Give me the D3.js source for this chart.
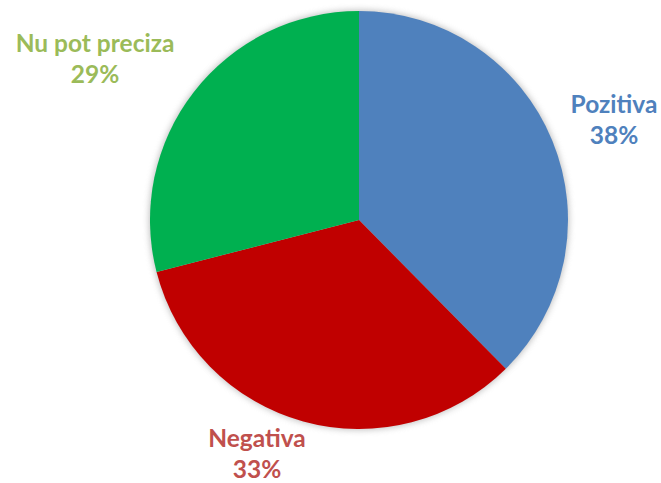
<!DOCTYPE html>
<html><head><meta charset="utf-8">
<script src="https://cdn.jsdelivr.net/npm/d3@7"></script>
<style>body{margin:0;background:#fff}svg{display:block}</style>
</head><body>
<script>
const categories = ["Pozitiva", "Negativa", "Nu pot preciza"];
const values = [37.6, 33.4, 29.0];
const labels = ["38%", "33%", "29%"];
const sliceColors = ["#4F81BD", "#C00000", "#00B050"];
const labelColors = ["#4F81BD", "#C0504D", "#9BBB59"];

const W = 661, H = 483, cx = 359, cy = 220, R = 209;
const svg = d3.select("body").append("svg").attr("width", W).attr("height", H);
const defs = svg.append("defs");
const f = defs.append("filter").attr("id", "sh").attr("x", "-20%").attr("y", "-20%").attr("width", "140%").attr("height", "140%");
f.append("feGaussianBlur").attr("stdDeviation", 3);

const g = svg.append("g").attr("transform", `translate(${cx},${cy})`);
g.append("circle").attr("r", R + 1).attr("fill", "#999").attr("opacity", 0.6).attr("filter", "url(#sh)");

const pie = d3.pie().sort(null)(values);
const arc = d3.arc().innerRadius(0).outerRadius(R);
g.selectAll("path.s").data(pie).join("path").attr("class", "s")
  .attr("d", arc).attr("fill", (d, i) => sliceColors[i]);

const labelPos = [[614, 113], [257, 447], [95, 52]];
const t = svg.append("g").style("font-family", "Lato, 'Open Sans', sans-serif").style("font-weight", "bold").style("font-size", "24.5px");
categories.forEach((c, i) => {
  const txt = t.append("text").attr("text-anchor", "middle").attr("fill", labelColors[i])
    .attr("x", labelPos[i][0]).attr("y", labelPos[i][1]);
  txt.append("tspan").attr("x", labelPos[i][0]).text(c);
  txt.append("tspan").attr("x", labelPos[i][0]).attr("dy", 31).text(labels[i]);
});
</script>
</body></html>
